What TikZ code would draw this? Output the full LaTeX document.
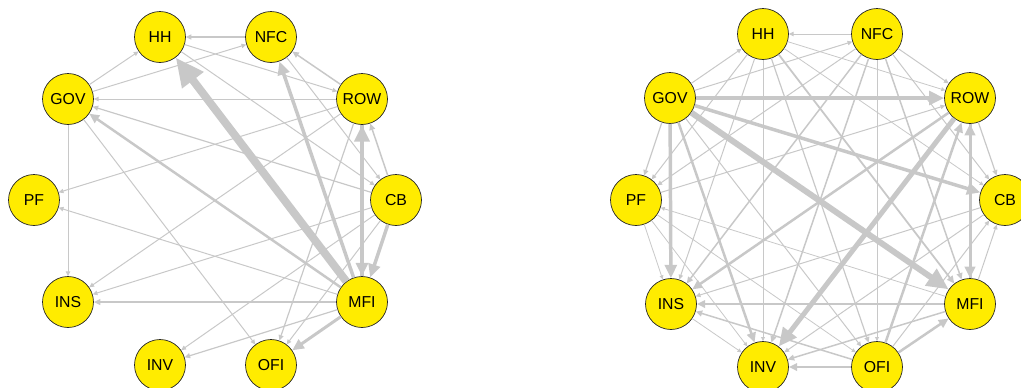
\documentclass[tikz,border=0pt]{standalone}
\usepackage{fontspec}
\setmainfont{Liberation Sans}
\usepackage{tikz}
\usetikzlibrary{arrows.meta}
\definecolor{nodeyellow}{RGB}{255,236,0}
\definecolor{edgegray}{RGB}{200,200,200}

\begin{document}
\begin{tikzpicture}[x=0.02cm, y=-0.02cm,
  every node/.style = {shape=circle, draw=black!85, line width=0.4pt,
    fill=nodeyellow, minimum size=1.02cm, inner sep=0pt,
    font=\fontsize{9}{10}\selectfont},
  flow/.style = {draw=edgegray, line width=#1*0.567pt,
    -{Triangle[length=0.8pt 3.4, width=0.8pt 3]}}]
  \useasboundingbox (0,0) rectangle (1021,387);

  \node (lHH)  at (160,37)  {HH};
  \node (lNFC) at (271,37)  {NFC};
  \node (lGOV) at (68,99)   {GOV};
  \node (lROW) at (362,99)  {ROW};
  \node (lPF)  at (34,200)  {PF};
  \node (lCB)  at (396,200) {CB};
  \node (lINS) at (68,302)  {INS};
  \node (lMFI) at (362,302) {MFI};
  \node (lINV) at (160,365) {INV};
  \node (lOFI) at (271,365) {OFI};

  \node (rHH)  at (763,34)  {HH};
  \node (rNFC) at (877,34)  {NFC};
  \node (rGOV) at (670,98)  {GOV};
  \node (rROW) at (970,98)  {ROW};
  \node (rPF)  at (636,200) {PF};
  \node (rCB)  at (1005,200) {CB};
  \node (rINS) at (671,304) {INS};
  \node (rMFI) at (970,304) {MFI};
  \node (rINV) at (763,367) {INV};
  \node (rOFI) at (877,367) {OFI};

  \draw[flow=1.2] (lNFC) -- (lHH);
  \draw[flow=8]   (lMFI) -- (lHH);
  \draw[flow=3.5] (lMFI) -- (lNFC);
  \draw[flow=1.5] (lROW) -- (lNFC);
  \draw[flow=1]   (lGOV) -- (lHH);
  \draw[flow=1]   (lGOV) -- (lNFC);
  \draw[flow=1]   (lHH) -- (lROW);
  \draw[flow=1]   (lHH) -- (lCB);
  \draw[flow=1]   (lNFC) -- (lCB);
  \draw[flow=1]   (lROW) -- (lGOV);
  \draw[flow=1.2] (lCB) -- (lGOV);
  \draw[flow=2.5] (lMFI) -- (lGOV);
  \draw[flow=1]   (lGOV) -- (lOFI);
  \draw[flow=1]   (lGOV) -- (lINS);
  \draw[flow=1]   (lROW) -- (lPF);
  \draw[flow=1]   (lMFI) -- (lPF);
  \draw[flow=1]   (lROW) -- (lINS);
  \draw[flow=1]   (lCB) -- (lINS);
  \draw[flow=1.5] (lMFI) -- (lINS);
  \draw[flow=1]   (lCB) -- (lINV);
  \draw[flow=1.2] (lMFI) -- (lINV);
  \draw[flow=3]   (lMFI) -- (lOFI);
  \draw[flow=1.2] (lROW) -- (lOFI);
  \draw[flow=1]   (lCB) -- (lOFI);
  \draw[flow=4.5] (lMFI) -- (lROW);
  \draw[flow=3.5] (lROW) -- (lMFI);
  \draw[flow=3.5] (lCB) -- (lMFI);
  \draw[flow=1.5] (lCB) -- (lROW);

  \draw[flow=1]   (rNFC) -- (rHH);
  \draw[flow=1]   (rGOV) -- (rHH);
  \draw[flow=0.8] (rHH) -- (rROW);
  \draw[flow=1]   (rHH) -- (rPF);
  \draw[flow=0.8] (rHH) -- (rCB);
  \draw[flow=1]   (rHH) -- (rINS);
  \draw[flow=1.8] (rHH) -- (rMFI);
  \draw[flow=0.8] (rHH) -- (rINV);
  \draw[flow=1.2] (rHH) -- (rOFI);
  \draw[flow=1]   (rGOV) -- (rNFC);
  \draw[flow=1]   (rNFC) -- (rROW);
  \draw[flow=1]   (rNFC) -- (rPF);
  \draw[flow=1]   (rNFC) -- (rCB);
  \draw[flow=1.5] (rNFC) -- (rINS);
  \draw[flow=1.5] (rNFC) -- (rMFI);
  \draw[flow=1.5] (rNFC) -- (rINV);
  \draw[flow=0.8] (rNFC) -- (rOFI);
  \draw[flow=4]   (rGOV) -- (rROW);
  \draw[flow=1.2] (rGOV) -- (rPF);
  \draw[flow=3.5] (rGOV) -- (rCB);
  \draw[flow=3.5] (rGOV) -- (rINS);
  \draw[flow=6]   (rGOV) -- (rMFI);
  \draw[flow=2.5] (rGOV) -- (rINV);
  \draw[flow=1]   (rGOV) -- (rOFI);
  \draw[flow=1]   (rPF) -- (rROW);
  \draw[flow=1.2] (rROW) -- (rCB);
  \draw[flow=2.5] (rROW) -- (rINS);
  \draw[flow=3]   (rROW) -- (rMFI);
  \draw[flow=3]   (rMFI) -- (rROW);
  \draw[flow=5]   (rROW) -- (rINV);
  \draw[flow=2.5] (rOFI) -- (rROW);
  \draw[flow=0.8] (rPF) -- (rINS);
  \draw[flow=0.8] (rMFI) -- (rPF);
  \draw[flow=0.8] (rPF) -- (rINV);
  \draw[flow=0.8] (rPF) -- (rOFI);
  \draw[flow=1]   (rCB) -- (rINS);
  \draw[flow=1]   (rMFI) -- (rCB);
  \draw[flow=1]   (rCB) -- (rINV);
  \draw[flow=1]   (rOFI) -- (rCB);
  \draw[flow=2]   (rMFI) -- (rINS);
  \draw[flow=0.8] (rINS) -- (rINV);
  \draw[flow=1.5] (rOFI) -- (rINS);
  \draw[flow=1.5] (rMFI) -- (rINV);
  \draw[flow=2.5] (rOFI) -- (rMFI);
  \draw[flow=2]   (rOFI) -- (rINV);
\end{tikzpicture}
\end{document}
